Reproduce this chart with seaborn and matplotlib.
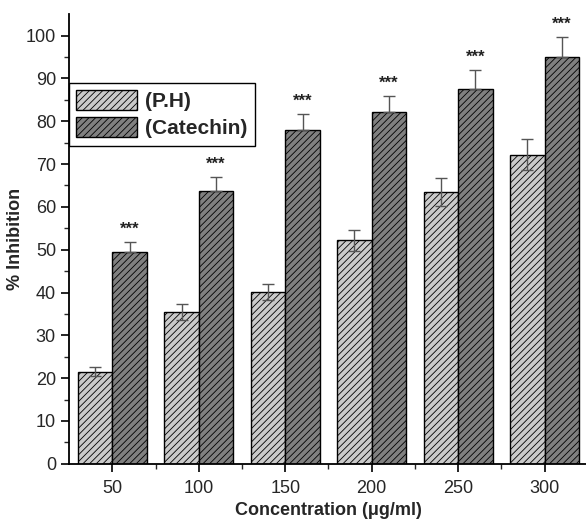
import matplotlib
matplotlib.use('Agg')
import matplotlib.pyplot as plt
import matplotlib.patches as mpatches
import seaborn as sns
import pandas as pd

concentrations = ['50', '100', '150', '200', '250', '300']
ph_values = [21.5, 35.4, 40.2, 52.2, 63.5, 72.2]
ph_errors = [1.0, 1.8, 1.9, 2.5, 3.2, 3.6]
catechin_values = [49.4, 63.8, 77.9, 82.1, 87.5, 94.9]
catechin_errors = [2.4, 3.1, 3.9, 3.9, 4.5, 4.7]
groups = ['(P.H)', '(Catechin)']
colors = ['#cacaca', '#808080']

df = pd.DataFrame({
    'conc': concentrations * 2,
    'value': ph_values + catechin_values,
    'group': [groups[0]] * 6 + [groups[1]] * 6,
})

sns.set_style('ticks')
plt.rcParams['font.family'] = ['Liberation Sans', 'DejaVu Sans']
plt.rcParams['hatch.linewidth'] = 0.6
plt.rcParams['hatch.color'] = '#2a2a2a'

fig = plt.figure(figsize=(5.86, 5.27), dpi=100)
ax = fig.add_axes([0.118, 0.12, 0.885, 0.853])

sns.barplot(data=df, x='conc', y='value', hue='group', order=concentrations,
            hue_order=groups, palette=colors, width=0.8, edgecolor='black',
            linewidth=1.0, errorbar=None, legend=False, ax=ax)

bars = [p for p in ax.patches if isinstance(p, mpatches.Rectangle)]
for p in bars:
    p.set_hatch('/////')

# error bars, placed at bar centres
ph_bars = bars[:6]
cat_bars = bars[6:12]
ph_x = [b.get_x() + b.get_width() / 2 for b in ph_bars]
cat_x = [b.get_x() + b.get_width() / 2 for b in cat_bars]
ax.errorbar(ph_x, ph_values, yerr=ph_errors, fmt='none', ecolor='#555555',
            elinewidth=1.0, capsize=4, capthick=1.0)
ax.errorbar(cat_x, catechin_values, yerr=[[0] * 6, catechin_errors], fmt='none',
            ecolor='#555555', elinewidth=1.0, capsize=4, capthick=1.0)

for x, v, e in zip(cat_x, catechin_values, catechin_errors):
    ax.text(x, v + e + 1.2, '***', ha='center', va='bottom', fontsize=12,
            fontweight='bold', color='#222222')

ax.set_ylim(0, 105)
ax.set_xlim(-0.5, 5.5)
ax.set_yticks(range(0, 101, 10))
ax.set_yticks(range(5, 101, 10), minor=True)
ax.set_xticks([i + 0.5 for i in range(5)], minor=True)
ax.tick_params(axis='both', which='major', direction='out', length=6, width=1.2,
               labelsize=13, color='black')
ax.tick_params(axis='x', which='major', pad=6)
ax.tick_params(axis='both', which='minor', direction='out', length=3.5, width=1.0)
for s in ['left', 'bottom']:
    ax.spines[s].set_linewidth(1.3)
    ax.spines[s].set_color('black')
sns.despine(ax=ax)

ax.set_xlabel('Concentration (μg/ml)', fontsize=13, fontweight='bold', labelpad=3)
ax.set_ylabel('% Inhibition', fontsize=13, fontweight='bold', labelpad=1)

handles = [mpatches.Patch(facecolor=c, edgecolor='black', hatch='/////', label=g)
           for c, g in zip(colors, groups)]
leg = ax.legend(handles=handles, loc='upper left', bbox_to_anchor=(0, 0.848),
                frameon=True, fancybox=False, edgecolor='black', framealpha=1,
                prop={'weight': 'bold', 'size': 15}, handlelength=2.9,
                handleheight=1.1, borderaxespad=0, handletextpad=0.4,
                labelspacing=0.3, borderpad=0.35)
leg.get_frame().set_linewidth(1.0)

fig.savefig('out.png', dpi=100)
